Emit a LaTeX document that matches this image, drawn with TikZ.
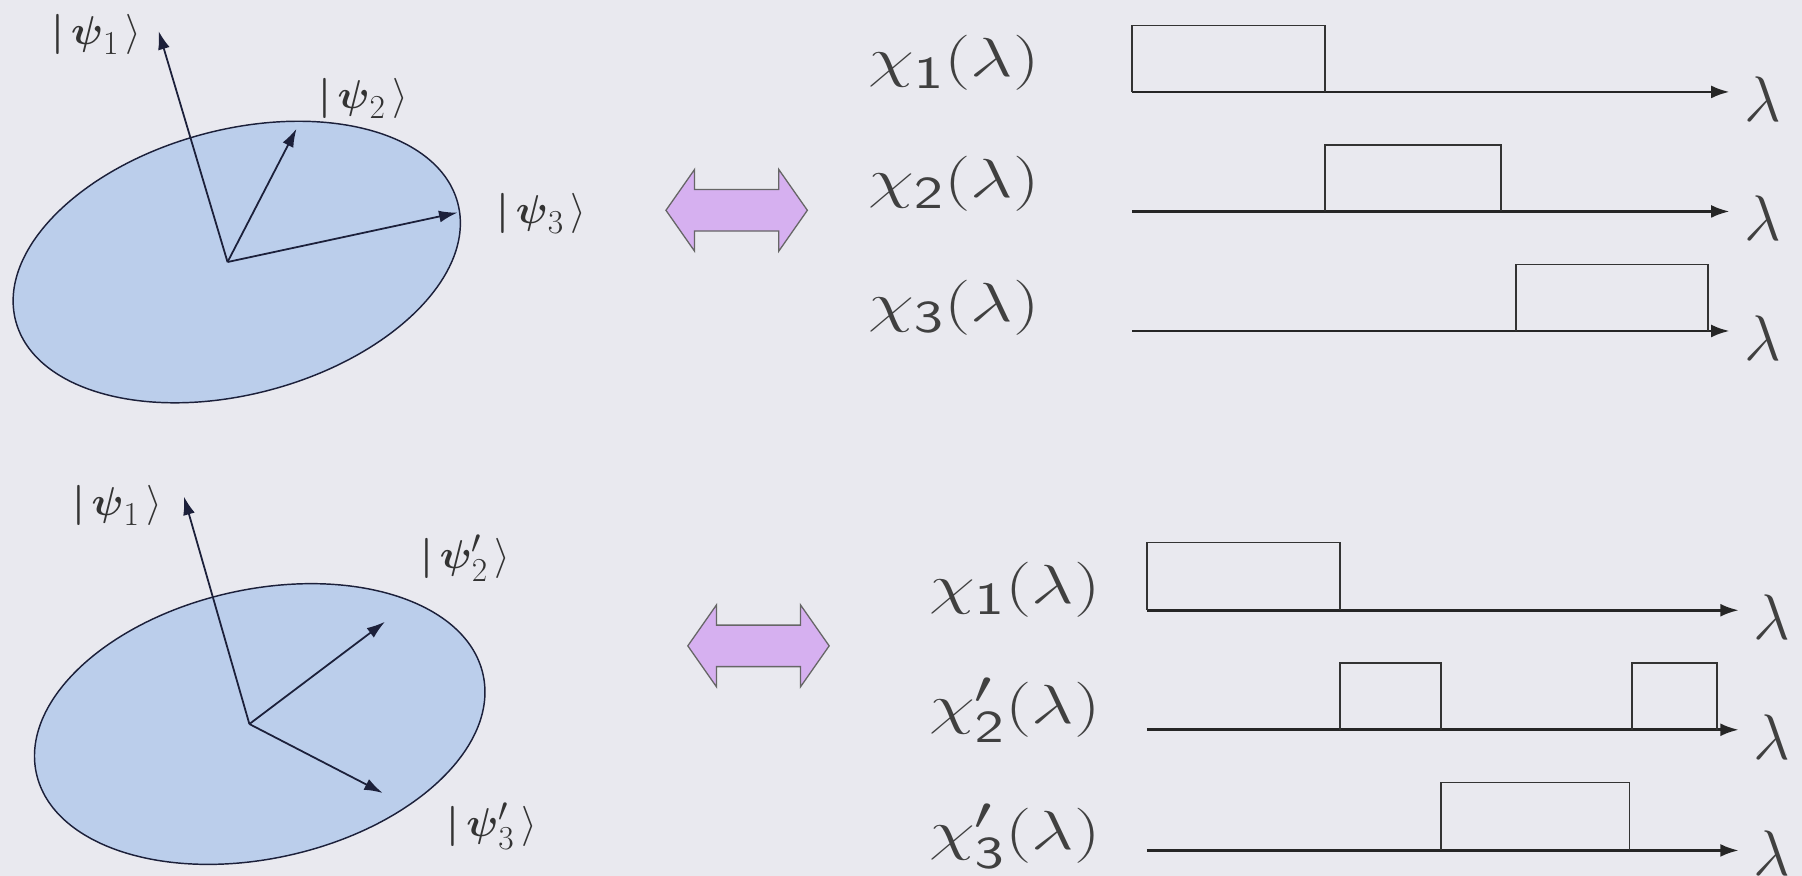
\documentclass[tikz,border=0pt]{standalone}
\usepackage{amsmath}
\usepackage{graphicx}
\usetikzlibrary{arrows.meta, shapes.geometric, shapes.arrows}
\definecolor{bgcol}{RGB}{233,233,239}
\definecolor{diskcol}{RGB}{187,206,235}
\definecolor{inkcol}{RGB}{28,32,58}
\definecolor{swapcol}{RGB}{214,176,240}
\newcommand{\wide}[1]{\scalebox{1.85}[1.37]{#1}}
\newcommand{\lamsym}{\scalebox{1.6}{$\lambda$}}
\newcommand{\ketv}[1]{\boldsymbol{|}\,#1\,\rangle}

\begin{document}
\begin{tikzpicture}[
    x=0.025cm, y=-0.025cm,
    disk/.style ={draw=inkcol, line width=0.9pt, fill=diskcol, ellipse,
                  inner sep=0pt, minimum width=9.95cm},
    vec/.style  ={-{Latex[length=4mm, width=2.6mm]}, line width=1.1pt, draw=inkcol},
    ket/.style  ={font=\Huge, text=black!80, inner sep=0pt},
    chi/.style  ={font=\Huge, text=black!75, inner sep=0pt},
    lam/.style  ={font=\Huge, text=black!75, inner sep=0pt,
                  anchor=west, xshift=0.3cm, yshift=-0.15cm},
    axis/.style ={-{Latex[length=4mm, width=2.8mm]}, line width=1.7pt, draw=black!85},
    pulse/.style={line width=0.9pt, draw=black!80},
    swap/.style ={double arrow, draw=black!60, line width=0.8pt, fill=swapcol,
                  minimum height=3.075cm, inner sep=0pt, text height=0.875cm,
                  text depth=0pt, double arrow head extend=0.4375cm,
                  double arrow tip angle=110},
]
\useasboundingbox (0,0) rectangle (1568,762);
\fill[bgcol] (0,0) rectangle (1568,762);

% upper row: basis vectors and their indicator functions
\node[disk, minimum height=5.75cm, rotate=15] (plane1) at (206,228) {};
\coordinate (o1) at (198,228);
\coordinate (u1) at (138,27);
\coordinate (u2) at (258,112);
\coordinate (u3) at (398,185);
\draw[vec] (o1) -- (u1);
\draw[vec] (o1) -- (u2);
\draw[vec] (o1) -- (u3);
\node[ket] (ku1) at (84,30)  {$\ketv{\boldsymbol{\psi}_1}$};
\node[ket] (ku2) at (316,86) {$\ketv{\boldsymbol{\psi}_2}$};
\node[ket] (ku3) at (471,186) {$\ketv{\boldsymbol{\psi}_3}$};

\node[swap] (swap1) at (641,183) {};

\node[chi] (cu1) at (830,55)  {\wide{$\chi_{\mathsf{1}}(\lambda)$}};
\node[chi] (cu2) at (830,160) {\wide{$\chi_{\mathsf{2}}(\lambda)$}};
\node[chi] (cu3) at (830,268) {\wide{$\chi_{\mathsf{3}}(\lambda)$}};
\coordinate (au1) at (985,80);  \coordinate (bu1) at (1505,80);
\coordinate (au2) at (985,184); \coordinate (bu2) at (1505,184);
\coordinate (au3) at (985,288); \coordinate (bu3) at (1505,288);
\draw[axis] (au1) -- (bu1) node[lam] (lu1) {\lamsym};
\draw[axis] (au2) -- (bu2) node[lam] (lu2) {\lamsym};
\draw[axis] (au3) -- (bu3) node[lam] (lu3) {\lamsym};
\draw[pulse] (985,80) -- (985,22) -- (1153,22) -- (1153,80);
\draw[pulse] (1153,184) -- (1153,126) -- (1306,126) -- (1306,184);
\draw[pulse] (1319,288) -- (1319,230) -- (1486,230) -- (1486,288);

% lower row: psi_2, psi_3 turned in the plane
\node[disk, minimum height=5.85cm, rotate=12.5] (plane2) at (226,630) {};
\coordinate (o2) at (217,630);
\coordinate (w1) at (160,432);
\coordinate (w2) at (335,541);
\coordinate (w3) at (333,690);
\draw[vec] (o2) -- (w1);
\draw[vec] (o2) -- (w2);
\draw[vec] (o2) -- (w3);
\node[ket] (kw1) at (102,440) {$\ketv{\boldsymbol{\psi}_1}$};
\node[ket] (kw2) at (405,486) {$\ketv{\boldsymbol{\psi}'_2}$};
\node[ket] (kw3) at (428,719) {$\ketv{\boldsymbol{\psi}'_3}$};

\node[swap] (swap2) at (660,562) {};

\node[chi] (cw1) at (883,513) {\wide{$\chi_{\mathsf{1}}(\lambda)$}};
\node[chi] (cw2) at (883,618) {\wide{$\chi'_{\mathsf{2}}(\lambda)$}};
\node[chi] (cw3) at (883,728) {\wide{$\chi'_{\mathsf{3}}(\lambda)$}};
\coordinate (aw1) at (998,531); \coordinate (bw1) at (1513,531);
\coordinate (aw2) at (998,635); \coordinate (bw2) at (1513,635);
\coordinate (aw3) at (998,740); \coordinate (bw3) at (1513,740);
\draw[axis] (aw1) -- (bw1) node[lam] (lw1) {\lamsym};
\draw[axis] (aw2) -- (bw2) node[lam] (lw2) {\lamsym};
\draw[axis] (aw3) -- (bw3) node[lam, yshift=0.1cm] (lw3) {\lamsym};
\draw[pulse] (998,531) -- (998,472) -- (1166,472) -- (1166,531);
\draw[pulse] (1166,635) -- (1166,577) -- (1254,577) -- (1254,635);
\draw[pulse] (1420,635) -- (1420,577) -- (1494,577) -- (1494,635);
\draw[pulse] (1254,740) -- (1254,681) -- (1418,681) -- (1418,740);
\end{tikzpicture}
\end{document}
